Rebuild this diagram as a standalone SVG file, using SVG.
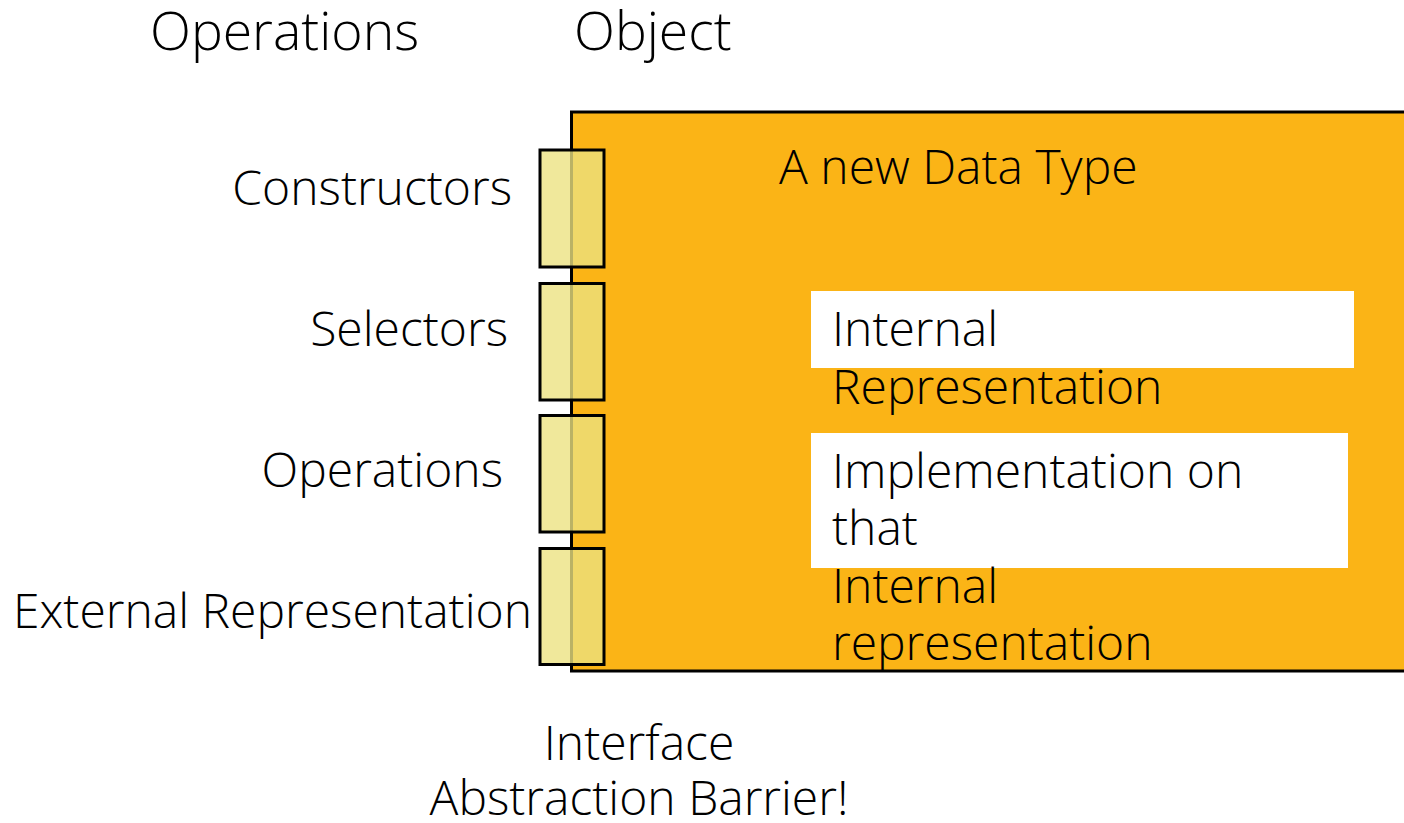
<svg xmlns="http://www.w3.org/2000/svg" width="1404" height="823" viewBox="0 0 1404 823">
  <style>
    text { font-family: "Open Sans", "Liberation Sans", sans-serif; font-weight: 300; font-size: 48px; fill: #000; }
    .head { font-size: 53.5px; }
    .end { text-anchor: end; }
    .mid { text-anchor: middle; }
    .port { fill: rgb(236,226,128); fill-opacity: 0.79; stroke: #000; stroke-width: 3; }
    .panel { fill: #fff; }
  </style>
  <rect width="1404" height="823" fill="#fff"/>

  <!-- column headings -->
  <text class="head" x="150" y="50">Operations</text>
  <text class="head" x="574" y="50">Object</text>

  <!-- the data type body -->
  <g id="object">
    <rect x="571.5" y="112" width="840" height="559" fill="#FBB416" stroke="#000" stroke-width="3"/>
    <text x="779" y="184">A new Data Type</text>
  </g>

  <g id="internal-representation">
    <rect class="panel" x="811" y="291" width="543" height="77"/>
    <text x="832" y="346">Internal</text>
    <text x="832" y="404">Representation</text>
  </g>

  <g id="implementation">
    <rect class="panel" x="811" y="433" width="537" height="135"/>
    <text x="832" y="488">Implementation on</text>
    <text x="832" y="545">that</text>
    <text x="832" y="603">Internal</text>
    <text x="832" y="660">representation</text>
  </g>

  <!-- interface ports on the barrier -->
  <g id="constructors">
    <rect class="port" x="540" y="150" width="64" height="117"/>
    <text class="end" x="512" y="205">Constructors</text>
  </g>
  <g id="selectors">
    <rect class="port" x="540" y="283.5" width="64" height="116.5"/>
    <text class="end" x="508" y="346">Selectors</text>
  </g>
  <g id="operations">
    <rect class="port" x="540" y="415.5" width="64" height="116.5"/>
    <text class="end" x="503" y="487">Operations</text>
  </g>
  <g id="external-representation">
    <rect class="port" x="540" y="548.5" width="64" height="116"/>
    <text class="end" x="532" y="628">External Representation</text>
  </g>

  <g id="barrier-label">
    <text class="mid" x="639" y="760">Interface</text>
    <text class="mid" x="639" y="815">Abstraction Barrier!</text>
  </g>
</svg>
